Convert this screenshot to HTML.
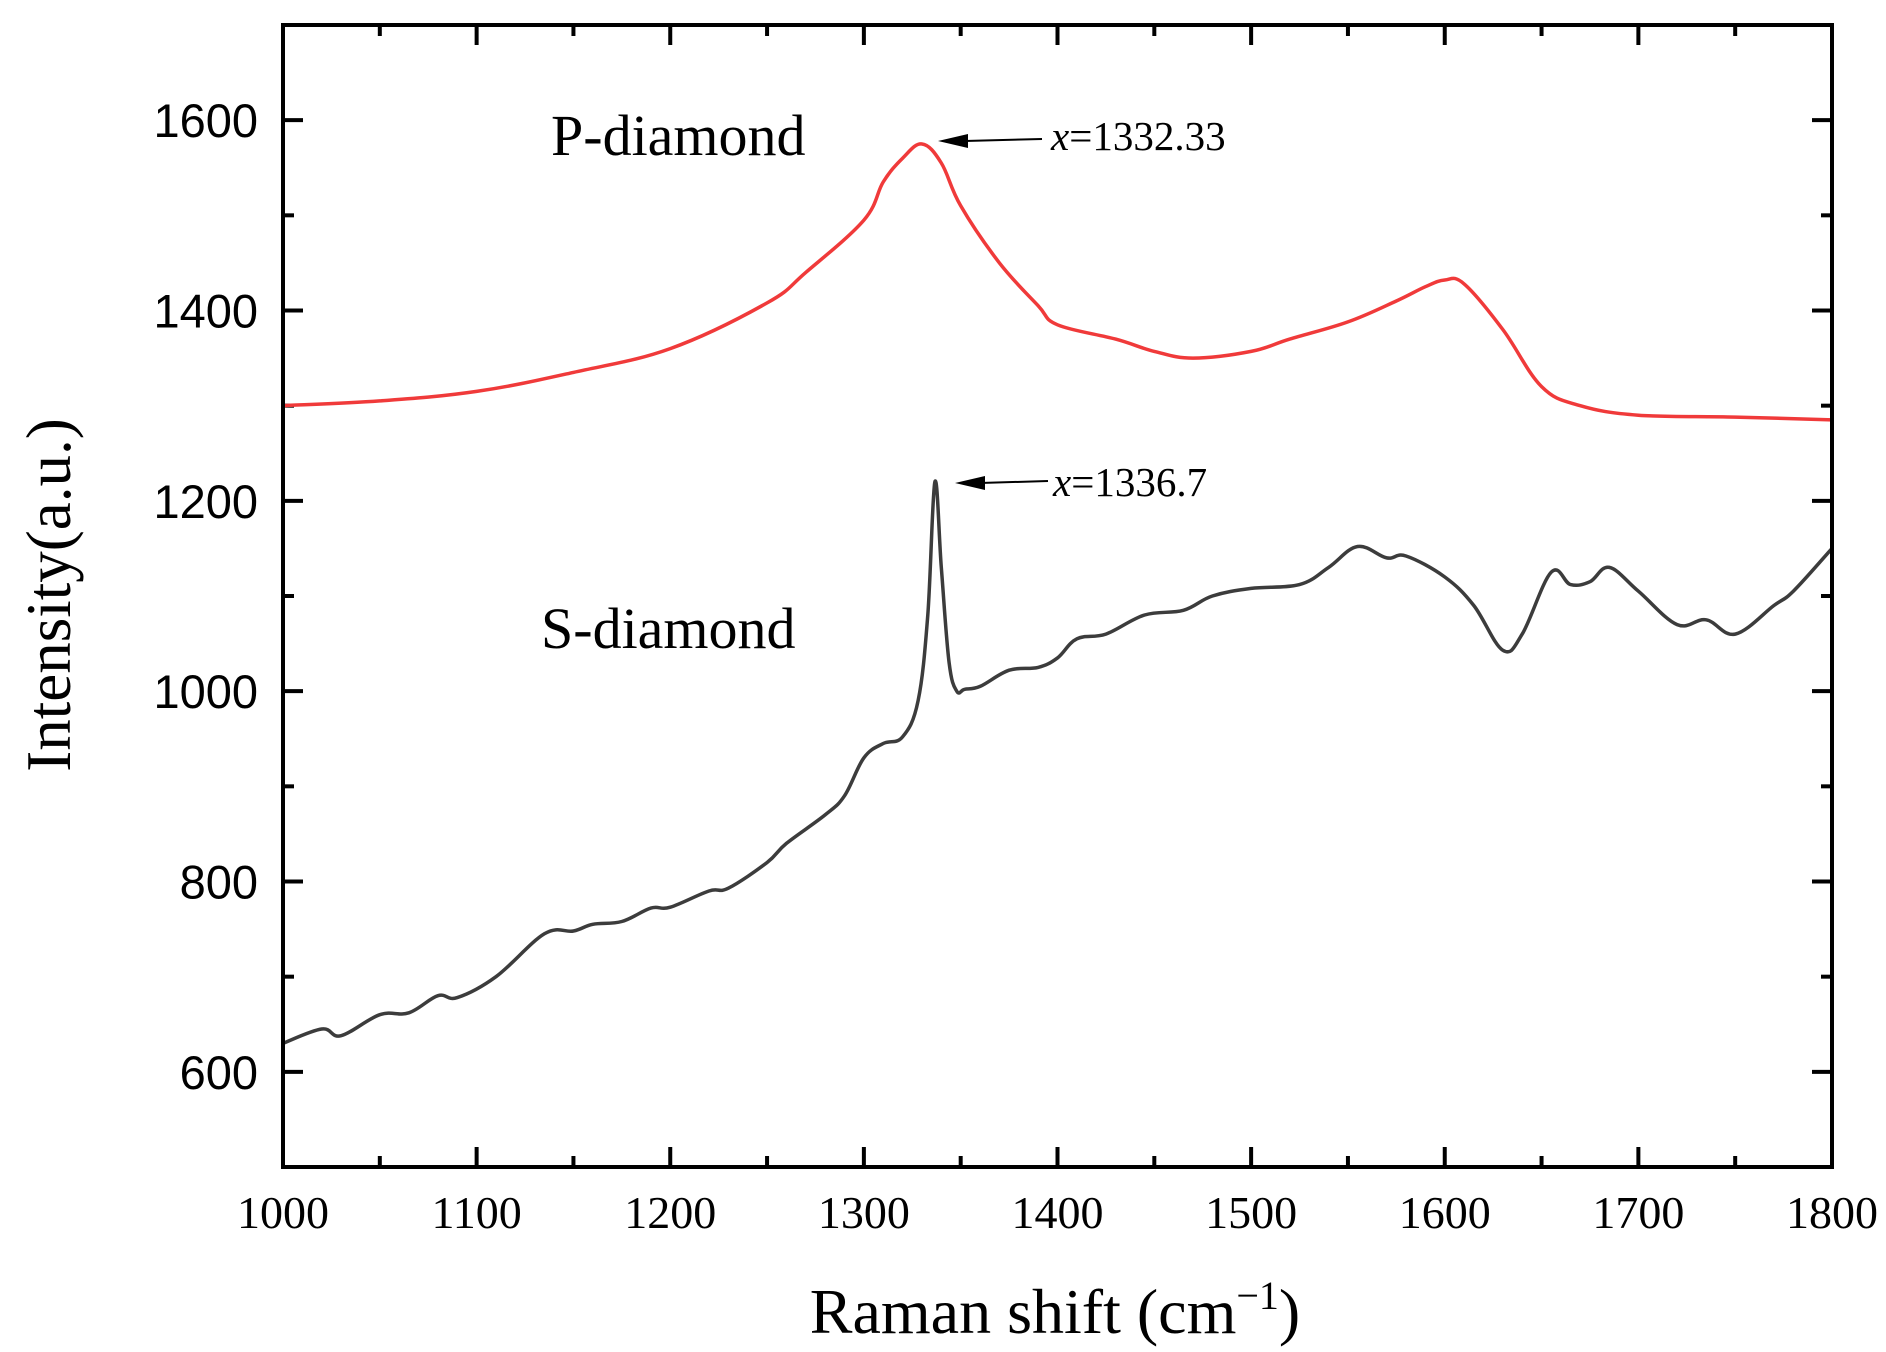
<!DOCTYPE html>
<html><head><meta charset="utf-8"><style>
html,body{margin:0;padding:0;background:#fff;}
.serif{font-family:"Liberation Serif",serif;}
.sans{font-family:"Liberation Sans",sans-serif;}
</style></head><body>
<svg id="chart" width="1886" height="1352" viewBox="0 0 1886 1352" xmlns="http://www.w3.org/2000/svg" style="position:absolute;left:0;top:0">
<g id="plot"></g>
</svg>
<script>
const xTicks=[1000,1100,1200,1300,1400,1500,1600,1700,1800];
const yTicks=[600,800,1000,1200,1400,1600];
const pX=[1000,1050,1100,1150,1200,1250,1270,1300,1310,1320,1330,1340,1350,1370,1390,1400,1430,1450,1470,1500,1520,1550,1575,1590,1600,1610,1630,1650,1670,1700,1750,1800];
const pY=[1300,1305,1315,1335,1360,1408,1440,1495,1535,1560,1575,1555,1510,1450,1405,1385,1370,1357,1350,1357,1370,1388,1410,1425,1432,1428,1380,1320,1300,1290,1288,1285];
const sX=[1000,1020,1030,1050,1065,1080,1090,1110,1135,1150,1160,1175,1190,1200,1220,1230,1250,1260,1280,1290,1300,1310,1320,1328,1333,1336.7,1340,1344,1348,1352,1360,1375,1390,1400,1410,1425,1445,1465,1480,1500,1525,1540,1555,1570,1580,1600,1615,1630,1640,1655,1665,1675,1685,1700,1720,1735,1750,1770,1780,1800];
const sY=[630,645,638,660,662,680,678,700,745,748,755,758,772,773,790,793,820,840,870,890,930,945,952,990,1080,1220,1130,1030,1000,1002,1005,1022,1025,1035,1055,1060,1080,1085,1100,1108,1112,1130,1152,1140,1142,1120,1090,1043,1060,1125,1112,1115,1130,1105,1070,1075,1060,1090,1105,1150];
const L=283,R=1832,T=25,B=1167,xMin=1000,xMax=1800,yMin=500,yMax=1700;
const X=v=>L+(v-xMin)/(xMax-xMin)*(R-L);
const Y=v=>B-(v-yMin)/(yMax-yMin)*(B-T);
const NS="http://www.w3.org/2000/svg";
const g=document.getElementById('plot');
function mk(tag,attrs,parent){const e=document.createElementNS(NS,tag);for(const k in attrs)e.setAttribute(k,attrs[k]);(parent||g).appendChild(e);return e;}
for(let v=xMin;v<=xMax;v+=50){const major=(v%100===0);const len=major?20:11;
 let t=mk('line',{x1:X(v),x2:X(v),y1:B,y2:B-len,stroke:'#000','stroke-width':4});
 
 
 t=mk('line',{x1:X(v),x2:X(v),y1:T,y2:T+len,stroke:'#000','stroke-width':4});
 
 }
for(let v=600;v<=1700;v+=100){const major=(v%200===0);const len=major?20:11;
 let t=mk('line',{x1:L,x2:L+len,y1:Y(v),y2:Y(v),stroke:'#000','stroke-width':4});
 
 
 t=mk('line',{x1:R,x2:R-len,y1:Y(v),y2:Y(v),stroke:'#000','stroke-width':4});
 
 }
xTicks.forEach(v=>{const t=mk('text',{x:X(v),y:1228,'font-size':46,'text-anchor':'middle','class':'serif'});t.textContent=v;
 
 });
yTicks.forEach(v=>{const t=mk('text',{x:258,y:Y(v)+17,'font-size':47,'text-anchor':'end','class':'sans'});t.textContent=v;
 
 });
function line(xs,ys,color,name){
 const P=xs.map((x,i)=>[X(x),Y(ys[i])]);
 let d='M'+P[0][0].toFixed(1)+','+P[0][1].toFixed(1);
 for(let i=0;i<P.length-1;i++){const p0=P[Math.max(0,i-1)],p1=P[i],p2=P[i+1],p3=P[Math.min(P.length-1,i+2)];
  const k=0.18;
  const c1=[p1[0]+(p2[0]-p0[0])*k,p1[1]+(p2[1]-p0[1])*k],c2=[p2[0]-(p3[0]-p1[0])*k,p2[1]-(p3[1]-p1[1])*k];
  d+='C'+c1[0].toFixed(1)+','+c1[1].toFixed(1)+' '+c2[0].toFixed(1)+','+c2[1].toFixed(1)+' '+p2[0].toFixed(1)+','+p2[1].toFixed(1);}
 const p=mk('path',{d:d,fill:'none',stroke:color,'stroke-width':3.5,'stroke-linejoin':'round'});
 
 }
line(pX,pY,'#f03a3a','p-diamond-line');
line(sX,sY,'#3c3c3c','s-diamond-line');
const fr=mk('rect',{x:L,y:T,width:R-L,height:B-T,fill:'none',stroke:'#000','stroke-width':4});


</script>
<svg width="1886" height="1352" style="position:absolute;left:0;top:0" xmlns="http://www.w3.org/2000/svg" font-family="Liberation Serif, serif">
<text x="551" y="155" font-size="58">P-diamond</text>
<text x="541" y="648" font-size="58">S-diamond</text>
<line x1="1042" y1="139" x2="965" y2="141" stroke="#000" stroke-width="2"/>
<path d="M938,141 L968,134 L968,148 Z" fill="#000"/>
<text x="1051" y="150" font-size="41"><tspan font-style="italic">x</tspan>=1332.33</text>
<line x1="1048" y1="481" x2="980" y2="483" stroke="#000" stroke-width="2"/>
<path d="M955,483 L985,476 L985,490 Z" fill="#000"/>
<text x="1053" y="496" font-size="41"><tspan font-style="italic">x</tspan>=1336.7</text>
<text transform="translate(70,595) rotate(-90)" text-anchor="middle" font-size="63">Intensity(a.u.)</text>
<text x="1055" y="1333" text-anchor="middle" font-size="64">Raman shift (cm<tspan dy="-24" font-size="40">−1</tspan><tspan dy="24">)</tspan></text>
</svg>
</body></html>
